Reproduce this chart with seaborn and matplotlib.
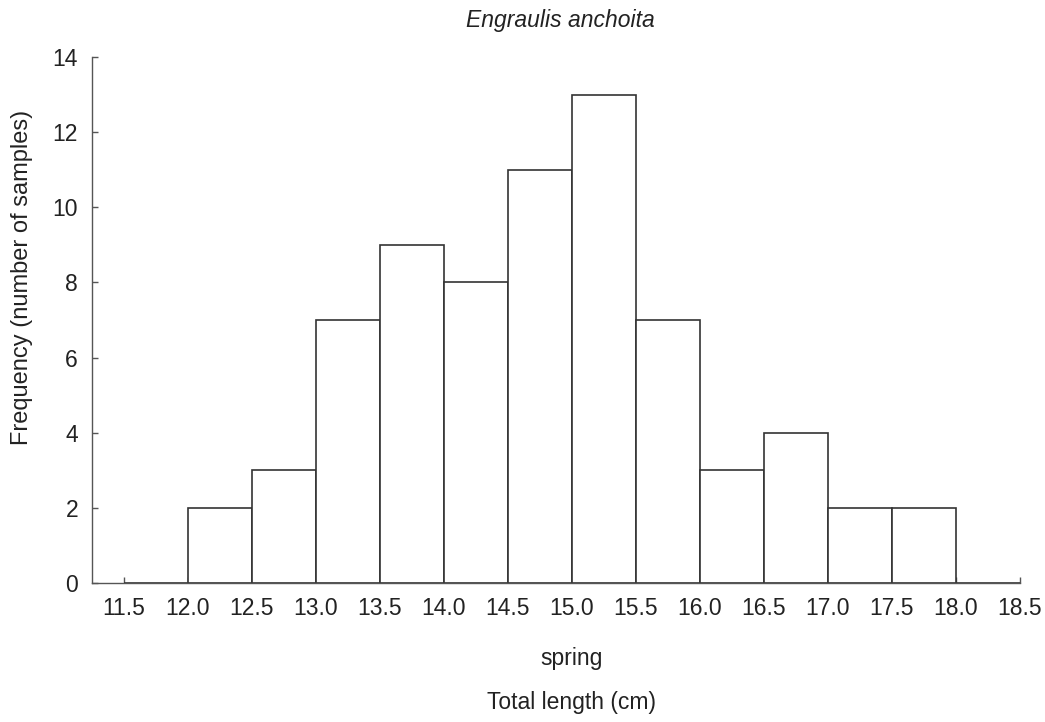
import numpy as np
import pandas as pd
import seaborn as sns
import matplotlib.pyplot as plt

# bins of total length (cm) and number of samples per bin
bin_edges = [11.5, 12.0, 12.5, 13.0, 13.5, 14.0, 14.5, 15.0, 15.5, 16.0, 16.5, 17.0, 17.5, 18.0, 18.5]
counts = [0, 2, 3, 7, 9, 8, 11, 13, 7, 3, 4, 2, 2, 0]
x_ticks = [11.5, 12.0, 12.5, 13.0, 13.5, 14.0, 14.5, 15.0, 15.5, 16.0, 16.5, 17.0, 17.5, 18.0, 18.5]
y_ticks = [0, 2, 4, 6, 8, 10, 12, 14]

mids = [(a + b) / 2 for a, b in zip(bin_edges[:-1], bin_edges[1:])]
df = pd.DataFrame({'length': mids, 'n': counts})

sns.set_style('ticks')
plt.rcParams['font.family'] = ['Liberation Sans', 'DejaVu Sans']

fig = plt.figure(figsize=(10.45, 7.22), dpi=100)
ax = fig.add_axes([0.088, 0.1925, 0.888, 0.7285])

sns.histplot(data=df, x='length', weights='n', bins=bin_edges, ax=ax,
             color='white', edgecolor='#333333', linewidth=1.2, alpha=1)

ax.set_xlim(11.25, 18.5)
ax.set_ylim(0, 14)
ax.set_xticks(x_ticks)
ax.set_xticklabels([f'{v:.1f}' for v in x_ticks])
ax.set_yticks(y_ticks)
ax.tick_params(direction='in', length=4, width=1, colors='#555555',
               labelcolor='#222222', labelsize=16.5, pad=10)
ax.set_xlabel('')
ax.set_ylabel('')
for s in ['top', 'right']:
    ax.spines[s].set_visible(False)
for s in ['left', 'bottom']:
    ax.spines[s].set_color('#555555')
    ax.spines[s].set_linewidth(1)

txt = dict(color='#222222', ha='center', va='center')
fig.text(0.536, 0.972, 'Engraulis anchoita', fontsize=16.5, style='italic', **txt)
fig.text(0.547, 0.088, 'spring', fontsize=16.5, **txt)
fig.text(0.547, 0.027, 'Total length (cm)', fontsize=16.5, **txt)
fig.text(0.021, 0.616, 'Frequency (number of samples)', fontsize=17, rotation=90, **txt)

fig.savefig('out.png', dpi=100)
